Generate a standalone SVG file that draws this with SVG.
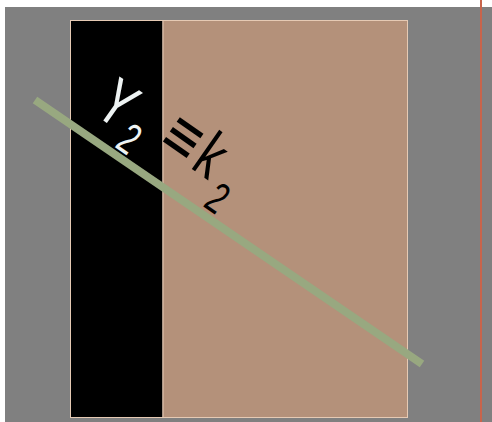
<svg xmlns="http://www.w3.org/2000/svg" width="492" height="422" viewBox="0 0 492 422">
<style>
.panel{stroke:#e6cab4;stroke-width:1}
.lbl{font-family:"Liberation Sans","DejaVu Sans",Arial,sans-serif;font-size:66px}
.sub{font-size:44px}
.op{font-family:"DejaVu Sans",sans-serif}
</style>
<rect x="0" y="0" width="492" height="422" fill="#ffffff"/>
<rect id="bg" x="5" y="7" width="487" height="415" fill="#808080"/>
<g id="panel-left"><rect class="panel" x="70.5" y="20.5" width="92.5" height="397" fill="#000000"/></g>
<g id="panel-right"><rect class="panel" x="163" y="20.5" width="244.5" height="397" fill="#b4917a"/></g>
<g id="connectors">
<line x1="35" y1="100" x2="422" y2="364" stroke="#98a880" stroke-width="8"/>
<line x1="481" y1="0" x2="481" y2="422" stroke="#c8644b" stroke-width="2"/>
</g>
<g id="label-y2"><text class="lbl" fill="#eef3f3" transform="translate(92.4,112.9) rotate(35) scale(0.7,1)">Y<tspan class="sub" dx="8.3" dy="15">2</tspan></text></g>
<g id="label-k2"><text class="lbl" fill="#000000" transform="translate(155.4,143.5) rotate(35) scale(0.7,1)"><tspan class="op">≡</tspan><tspan dx="3.6">k</tspan><tspan class="sub" dx="13.4" dy="24">2</tspan></text></g>
</svg>
